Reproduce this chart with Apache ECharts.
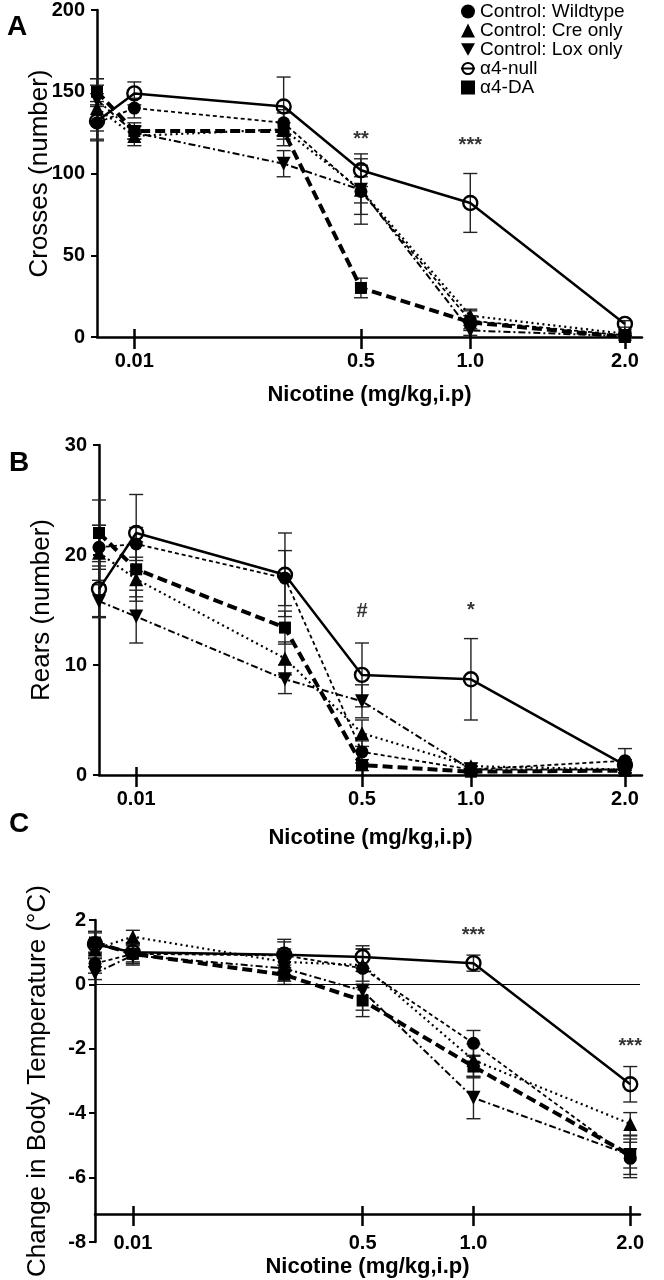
<!DOCTYPE html>
<html><head><meta charset="utf-8">
<script src="https://cdn.jsdelivr.net/npm/echarts@6/dist/echarts.min.js"></script>
<style>html,body{margin:0;padding:0;background:#fff}#c{width:664px;height:1280px}</style>
</head><body><div id="c"></div>
<script>
// ---------- data ----------
const doses = [0, 0.01, 0.25, 0.5, 1.0, 2.0];
const tickDoses = [0.01, 0.5, 1.0, 2.0];
const tickLabels = ['0.01', '0.5', '1.0', '2.0'];
const groups = ['Control: Wildtype', 'Control: Cre only', 'Control: Lox only', 'α4-null', 'α4-DA'];

// Panel A: Crosses (number)
const crossesWT     = [131, 140, 131, 89, 10, 1];
const crossesWTErr  = [10, 6, 8, 20, 6, 1];
const crossesCre    = [140, 123, 127, 90, 13, 2];
const crossesCreErr = [14, 6, 10, 15, 4, 1];
const crossesLox    = [145, 125, 106, 90, 4, 0.5];
const crossesLoxErr = [13, 4, 8, 8, 3, 0.5];
const crossesNull   = [132, 149, 141, 102, 82, 8];
const crossesNullErr= [12, 7, 18, 10, 18, 2];
const crossesDA     = [150, 126, 126, 30, 9, 0];
const crossesDAErr  = [8, 5, 5, 6, 4, 0.5];

// Panel B: Rears (number)
const rearsWT     = [20.7, 21.0, 17.9, 2.1, 0.5, 1.3];
const rearsWTErr  = [2.0, 1.5, 2.5, 1.0, 0.3, 1.1];
const rearsCre    = [20.2, 17.8, 10.6, 3.8, 0.8, 0.5];
const rearsCreErr = [2.5, 2.0, 1.5, 1.2, 0.3, 0.3];
const rearsLox    = [15.8, 14.4, 8.7, 6.7, 0.5, 0.5];
const rearsLoxErr = [1.5, 2.4, 1.3, 1.5, 0.3, 0.3];
const rearsNull   = [16.9, 22.0, 18.2, 9.1, 8.7, 0.9];
const rearsNullErr= [2.5, 3.5, 3.8, 2.9, 3.7, 0.5];
const rearsDA     = [22.0, 18.7, 13.4, 0.9, 0.3, 0.4];
const rearsDAErr  = [3.0, 2.5, 1.5, 0.5, 0.2, 0.2];

// Panel C: Change in body temperature (°C)
const tempWT     = [0.65, 0.95, 0.9, 0.5, -1.83, -5.4];
const tempWTErr  = [0.3, 0.3, 0.5, 0.6, 0.4, 0.6];
const tempCre    = [1.1, 1.48, 0.7, 0.6, -2.35, -4.33];
const tempCreErr = [0.3, 0.2, 0.4, 0.5, 0.5, 0.35];
const tempLox    = [0.35, 0.9, 0.5, -0.2, -3.52, -5.3];
const tempLoxErr = [0.2, 0.3, 0.4, 0.6, 0.65, 0.6];
const tempNull   = [1.25, 1.0, 0.92, 0.85, 0.66, -3.1];
const tempNullErr= [0.4, 0.3, 0.4, 0.35, 0.25, 0.55];
const tempDA     = [1.3, 0.95, 0.3, -0.5, -2.55, -5.3];
const tempDAErr  = [0.3, 0.3, 0.3, 0.5, 0.35, 0.4];

// significance marks: dose, value, text
const annotA = [[0.5, 121, '**'], [1.0, 117, '***']];
const annotB = [[0.5, 14.9, '#'], [1.0, 15.0, '*']];
const annotC = [[1.0, 1.53, '***'], [2.0, -1.93, '***']];

// ---------- chart ----------
// the dose axis of the figure is a square-root scale
const sqrtScale = d => Math.sqrt(d);
const narrow = '"Liberation Sans Narrow", "Arial Narrow", "Liberation Sans", Arial, sans-serif';
const sans = '"Liberation Sans", Arial, Helvetica, sans-serif';

const styles = [
  { symbol: 'circle', symbolSize: 13, line: { type: [4, 3], width: 1.8 }, fill: '#000' },
  { symbol: 'triangle', symbolSize: 14, line: { type: [2, 3.5], width: 2.2 }, fill: '#000' },
  { symbol: 'path://M0,0L10,0L5,9Z', symbolSize: 14, line: { type: [7, 3, 2, 3], width: 2 }, fill: '#000' },
  { symbol: 'circle', symbolSize: 14, line: { type: 'solid', width: 2.5 }, fill: 'rgba(0,0,0,0)' },
  { symbol: 'rect', symbolSize: 12, line: { type: [10, 5], width: 4 }, fill: '#000' }
];

const panels = [
  { vals: [crossesWT, crossesCre, crossesLox, crossesNull, crossesDA],
    errs: [crossesWTErr, crossesCreErr, crossesLoxErr, crossesNullErr, crossesDAErr], annot: annotA },
  { vals: [rearsWT, rearsCre, rearsLox, rearsNull, rearsDA],
    errs: [rearsWTErr, rearsCreErr, rearsLoxErr, rearsNullErr, rearsDAErr], annot: annotB },
  { vals: [tempWT, tempCre, tempLox, tempNull, tempDA],
    errs: [tempWTErr, tempCreErr, tempLoxErr, tempNullErr, tempDAErr], annot: annotC }
];

function errRender(params, api) {
  const x = api.value(0), lo = api.value(1), hi = api.value(2);
  const p1 = api.coord([x, hi]), p2 = api.coord([x, lo]);
  const w = 7;
  const style = { stroke: '#222', lineWidth: 1.4 };
  return { type: 'group', children: [
    { type: 'line', shape: { x1: p1[0], y1: p1[1], x2: p2[0], y2: p2[1] }, style },
    { type: 'line', shape: { x1: p1[0] - w, y1: p1[1], x2: p1[0] + w, y2: p1[1] }, style },
    { type: 'line', shape: { x1: p2[0] - w, y1: p2[1], x2: p2[0] + w, y2: p2[1] }, style }
  ]};
}

const tickVals = tickDoses.map(sqrtScale);
function tickFmt(v) {
  let best = 0, bd = 1e9;
  tickVals.forEach((t, i) => { const d = Math.abs(t - v); if (d < bd) { bd = d; best = i; } });
  return tickLabels[best];
}

const grids = [
  { left: 97, top: 9, width: 545, height: 328 },   // 0 A
  { left: 97, top: 9, width: 545, height: 328 },   // 1 A inner ticks
  { left: 99, top: 445, width: 543, height: 330 }, // 2 B
  { left: 99, top: 445, width: 543, height: 330 }, // 3 B inner ticks
  { left: 95, top: 920, width: 545, height: 327 }, // 4 C data
  { left: 95, top: 920, width: 545, height: 294 }, // 5 C x-axis at -7
  { left: 95, top: 920, width: 545, height: 294 }  // 6 C inner ticks
];
const xMaxAB = 1.46, xMaxC = 1.44;
function xMain(gi, max, gap, margin) {
  return { type: 'value', gridIndex: gi, min: 0, max: max, position: 'bottom',
    axisLine: { show: true, onZero: false, lineStyle: { color: '#000', width: 2.5 } },
    axisTick: { show: true, inside: false, length: 12, customValues: tickVals, lineStyle: { color: '#000', width: 2.5 } },
    axisLabel: { show: true, customValues: tickVals, formatter: tickFmt, margin: margin,
      fontFamily: narrow, fontWeight: 'bold', fontSize: 20, color: '#000' },
    splitLine: { show: false },
    name: 'Nicotine (mg/kg,i.p)', nameLocation: 'middle', nameGap: gap, nameMoveOverlap: false,
    nameTextStyle: { fontFamily: narrow, fontWeight: 'bold', fontSize: 22, color: '#000' } };
}
function xInner(gi, max) {
  return { type: 'value', gridIndex: gi, min: 0, max: max, position: 'bottom',
    axisLine: { show: false },
    axisTick: { show: true, inside: true, length: 8, customValues: tickVals, lineStyle: { color: '#000', width: 2.5 } },
    axisLabel: { show: false }, splitLine: { show: false } };
}
function yMain(gi, min, max, interval, name, margin) {
  return { type: 'value', gridIndex: gi, min, max, interval,
    axisLine: { show: true, onZero: false, lineStyle: { color: '#000', width: 2.5 } },
    axisTick: { show: true, inside: false, length: 6, lineStyle: { color: '#000', width: 2 } },
    axisLabel: { fontFamily: narrow, fontWeight: 'bold', fontSize: 20, color: '#000', margin: margin },
    splitLine: { show: false },
    name, nameLocation: 'middle', nameGap: 44, nameMoveOverlap: false,
    nameTextStyle: { fontFamily: sans, fontSize: 26, color: '#000' } };
}
function yHidden(gi, min, max) {
  return { type: 'value', gridIndex: gi, min, max, show: false,
    axisLine: { show: false }, axisTick: { show: false }, axisLabel: { show: false }, splitLine: { show: false } };
}

const xAxis = [
  xMain(0, xMaxAB, 47, 14), xInner(1, xMaxAB),
  xMain(2, xMaxAB, 52, 14), xInner(3, xMaxAB),
  Object.assign(xInner(4, xMaxC), { show: false }),
  xMain(5, xMaxC, 42, 19), xInner(6, xMaxC)
];
const yAxis = [
  yMain(0, 0, 200, 50, 'Crosses (number)', 12), yHidden(1, 0, 200),
  yMain(2, 0, 30, 10, 'Rears (number)', 12), yHidden(3, 0, 30),
  yMain(4, -8, 2, 2, 'Change in Body Temperature (°C)', 9), yHidden(5, 0, 1), yHidden(6, 0, 1)
];

const dataAxis = [0, 2, 4];
const series = [];
panels.forEach((p, pi) => {
  const ai = dataAxis[pi];
  p.vals.forEach((vals, gi) => {
    const errs = p.errs[gi];
    series.push({
      type: 'custom', name: groups[gi] + ' SEM', xAxisIndex: ai, yAxisIndex: ai, z: 1,
      renderItem: errRender, encode: { x: 0, y: [1, 2] }, silent: true,
      data: doses.map((d, k) => [sqrtScale(d), vals[k] - errs[k], vals[k] + errs[k]])
    });
  });
});
panels.forEach((p, pi) => {
  const ai = dataAxis[pi];
  p.vals.forEach((vals, gi) => {
    const st = styles[gi];
    const s = {
      type: 'line', name: groups[gi], xAxisIndex: ai, yAxisIndex: ai, z: 3 + gi,
      symbol: st.symbol, symbolSize: st.symbolSize, showAllSymbol: true,
      itemStyle: { color: st.fill, borderColor: '#000', borderWidth: gi === 3 ? 2.4 : 0 },
      lineStyle: { color: '#000', width: st.line.width, type: st.line.type },
      data: doses.map((d, k) => [sqrtScale(d), vals[k]])
    };
    if (pi === 2 && gi === 0) {
      s.markLine = { silent: true, symbol: 'none', label: { show: false },
        lineStyle: { color: '#000', width: 1.2, type: 'solid' }, data: [{ yAxis: 0 }] };
    }
    series.push(s);
  });
  series.push({
    type: 'scatter', name: 'sig' + pi, xAxisIndex: ai, yAxisIndex: ai, symbolSize: 1, z: 10,
    itemStyle: { color: 'rgba(0,0,0,0)' },
    label: { show: true, position: 'inside', formatter: q => q.value[2],
      fontFamily: sans, fontWeight: 'bold', fontSize: 20, color: '#000' },
    data: p.annot.map(a => [sqrtScale(a[0]), a[1], a[2]])
  });
});

const option = {
  animation: false,
  backgroundColor: '#fff',
  title: [
    { text: 'A', left: 2, top: 8, textStyle: { fontFamily: sans, fontWeight: 'bold', fontSize: 28, color: '#000' } },
    { text: 'B', left: 4, top: 444, textStyle: { fontFamily: sans, fontWeight: 'bold', fontSize: 28, color: '#000' } },
    { text: 'C', left: 4, top: 805, textStyle: { fontFamily: sans, fontWeight: 'bold', fontSize: 28, color: '#000' } }
  ],
  legend: {
    orient: 'vertical', left: 455, top: -3, itemGap: 0, itemWidth: 14, itemHeight: 14,
    textStyle: { fontFamily: sans, fontSize: 19, color: '#000', lineHeight: 17.5 },
    data: [
      { name: groups[0], icon: 'circle' },
      { name: groups[1], icon: 'triangle' },
      { name: groups[2], icon: 'path://M0,0L10,0L5,9Z' },
      { name: groups[3] },
      { name: groups[4], icon: 'rect' }
    ]
  },
  grid: grids,
  xAxis, yAxis, series
};
const chart = echarts.init(document.getElementById('c'), null, { renderer: 'canvas' });
chart.setOption(option);
</script></body></html>
